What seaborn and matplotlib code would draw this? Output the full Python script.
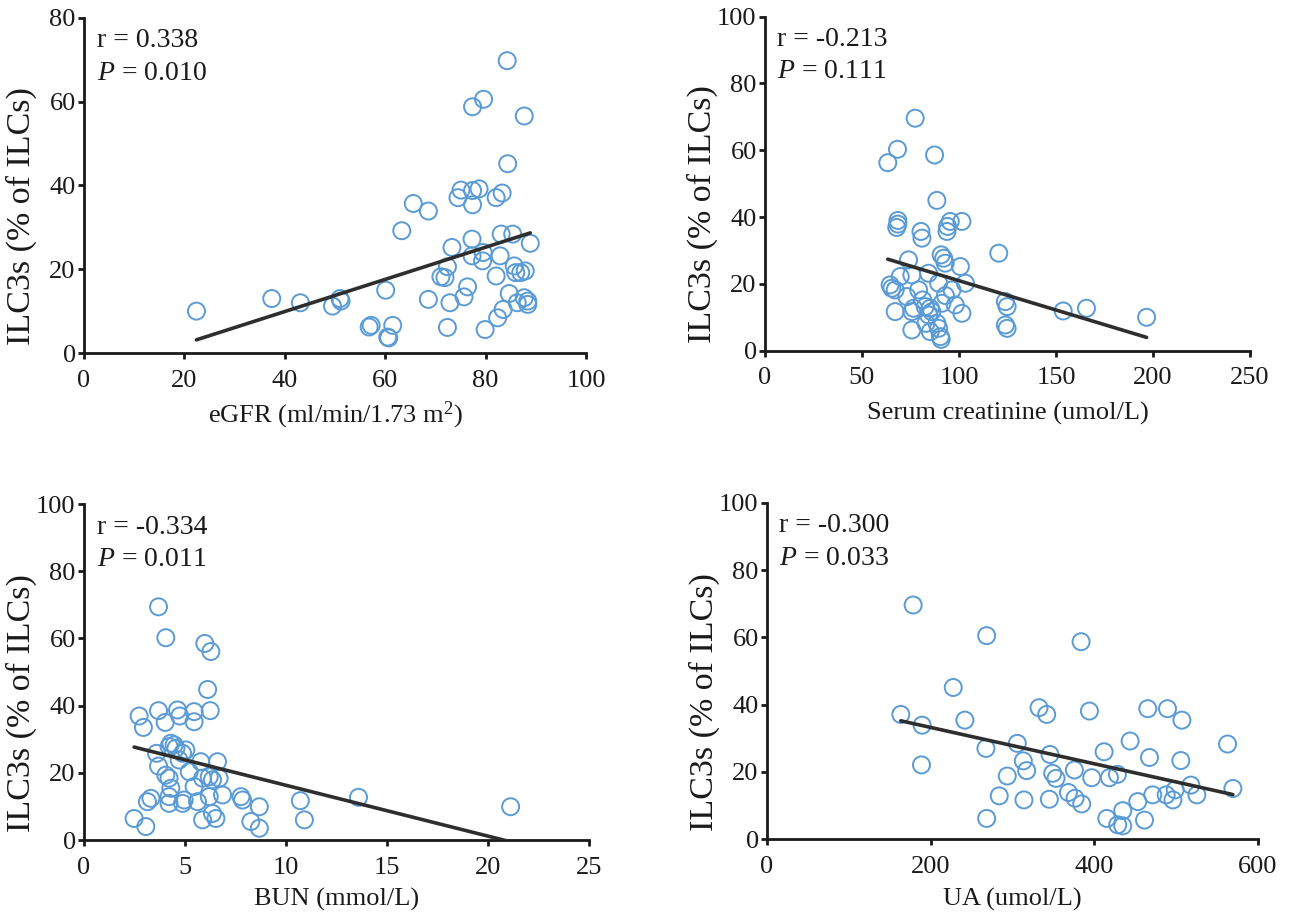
import numpy as np
import pandas as pd
import matplotlib
matplotlib.use("Agg")
import matplotlib.pyplot as plt
import seaborn as sns

# ---------------- data ----------------
egfr_x = [22.4, 37.4, 43.1, 49.5, 51.0, 51.2, 56.8, 57.2, 60.1, 60.5, 60.7, 61.5, 63.3, 65.6,
          68.6, 68.6, 71.1, 71.9, 72.4, 72.4, 72.9, 73.3, 74.5, 75.1, 75.7, 76.4, 77.4, 79.6,
          77.4, 77.4, 77.3, 77.3, 78.7, 79.5, 79.4, 79.9, 82.1, 83.3, 82.1, 82.9, 82.4, 83.5,
          83.1, 84.3, 84.4, 84.7, 85.4, 85.7, 86.0, 86.3, 87.0, 87.7, 87.9, 87.7, 88.4, 88.4, 88.9]
egfr_y = [10.0, 13.0, 12.0, 11.2, 13.0, 12.4, 6.2, 6.6, 15.0, 3.8, 3.6, 6.6, 29.2, 35.7,
          33.9, 12.8, 18.2, 18.0, 20.6, 6.1, 12.0, 25.2, 37.1, 38.9, 13.4, 15.8, 58.8, 60.6,
          38.8, 35.4, 27.2, 23.2, 39.2, 24.0, 22.0, 5.6, 37.1, 38.2, 18.4, 23.2, 8.4, 10.4,
          28.4, 69.8, 45.2, 14.2, 28.4, 20.8, 19.2, 12.0, 19.2, 56.6, 19.6, 13.2, 12.4, 11.6, 26.2]

scr_x = [77.4, 68.3, 63.3, 87.4, 88.6, 68.5, 68.5, 67.9, 80.4, 80.9, 95.5, 101.5, 94.1, 93.8,
         120.5, 90.8, 92.1, 92.9, 74.0, 100.7, 69.7, 75.7, 84.3, 89.5, 103.3, 64.5, 65.4, 67.1,
         79.2, 96.4, 73.1, 67.1, 76.6, 75.7, 82.6, 85.2, 86.0, 84.3, 91.2, 98.1, 101.5, 75.7,
         85.2, 88.6, 89.5, 90.4, 90.8, 123.9, 124.8, 123.9, 124.8, 153.7, 165.7, 196.7,
         81.3, 83.0, 93.0]
scr_y = [69.6, 60.3, 56.3, 58.6, 45.0, 39.0, 37.9, 36.9, 35.7, 33.7, 38.7, 38.7, 37.2, 35.7,
         29.2, 28.7, 27.7, 26.2, 27.2, 25.2, 22.2, 22.7, 23.2, 20.2, 20.2, 19.7, 18.7, 18.2,
         18.2, 18.2, 16.2, 11.7, 12.7, 11.7, 13.2, 12.7, 11.7, 10.7, 14.2, 13.7, 11.2, 6.2,
         5.7, 8.2, 6.7, 4.2, 3.4, 14.7, 13.2, 7.7, 6.7, 11.9, 12.7, 10.0,
         15.2, 8.2, 16.5]

bun_x = [3.69, 4.05, 5.98, 6.28, 6.12,
         2.73, 2.94, 3.69, 4.02, 4.63, 4.74, 5.45, 5.45, 6.25,
         4.30, 4.46, 4.21, 4.55, 5.04, 4.88, 3.59, 3.69, 5.78, 6.61, 4.71, 4.05, 4.21, 5.21,
         5.87, 6.20, 6.36, 6.69, 4.30, 5.45,
         3.31, 3.14, 4.21, 4.21, 4.96, 4.88, 5.62, 6.20, 6.86, 7.77, 7.85, 8.68, 2.48, 3.06,
         5.87, 6.36, 6.53, 8.26, 8.68,
         10.71, 10.91, 13.59, 21.12]
bun_y = [69.4, 60.2, 58.5, 56.1, 44.8,
         36.9, 33.5, 38.5, 35.0, 38.7, 36.9, 38.2, 35.2, 38.5,
         28.8, 28.3, 27.8, 27.3, 26.8, 25.8, 25.8, 22.0, 23.3, 23.3, 23.8, 19.3, 18.4, 20.3,
         18.4, 18.8, 17.9, 18.4, 15.4, 15.9,
         12.4, 11.4, 12.9, 10.9, 11.9, 10.9, 11.4, 12.9, 13.4, 12.9, 11.9, 9.9, 6.4, 4.0,
         6.0, 7.9, 6.4, 5.5, 3.5,
         11.7, 6.0, 12.7, 9.9]

ua_x = [178.6, 268.4, 383.8, 227.6, 163.5, 189.6, 241.8, 332.4, 341.8, 394.0, 465.3, 489.4,
        507.0, 188.8, 267.5, 305.9, 313.2, 317.3, 293.6, 283.8, 268.4, 314.0, 345.8, 349.1,
        353.2, 345.0, 368.3, 376.4, 384.6, 375.6, 396.8, 411.9, 418.4, 428.2, 443.7, 467.4,
        505.7, 415.2, 428.6, 434.7, 434.7, 453.1, 461.3, 471.4, 487.8, 496.0, 498.8, 518.0,
        525.3, 562.8, 569.3]
ua_y = [69.6, 60.5, 58.7, 45.1, 37.1, 33.9, 35.4, 39.1, 37.1, 38.1, 38.8, 38.8,
        35.4, 22.1, 27.0, 28.5, 23.3, 20.4, 18.8, 12.9, 6.2, 11.7, 25.2, 19.6,
        18.1, 11.9, 13.9, 12.2, 10.5, 20.6, 18.3, 26.0, 18.3, 19.3, 29.2, 24.3,
        23.4, 6.2, 4.3, 4.0, 8.5, 11.2, 5.7, 13.2, 13.2, 11.7, 14.7, 16.1,
        13.2, 28.3, 15.1]

x_labels = ["eGFR (ml/min/1.73 m$^{2}$)", "Serum creatinine (umol/L)",
            "BUN (mmol/L)", "UA (umol/L)"]
y_label = "ILC3s (% of ILCs)"
r_texts = ["r = 0.338", "r = -0.213", "r = -0.334", "r = -0.300"]
p_texts = ["0.010", "0.111", "0.011", "0.033"]
x_ticks = [[0, 20, 40, 60, 80, 100], [0, 50, 100, 150, 200, 250],
           [0, 5, 10, 15, 20, 25], [0, 200, 400, 600]]
y_ticks = [[0, 20, 40, 60, 80], [0, 20, 40, 60, 80, 100],
           [0, 20, 40, 60, 80, 100], [0, 20, 40, 60, 80, 100]]

# ---------------- style ----------------
sns.set_style("ticks")
plt.rcParams["font.family"] = ["Liberation Serif", "DejaVu Serif"]
plt.rcParams["mathtext.fontset"] = "custom"
plt.rcParams["mathtext.rm"] = "Liberation Serif"
plt.rcParams["mathtext.it"] = "Liberation Serif:italic"
plt.rcParams["mathtext.bf"] = "Liberation Serif:bold"

MARK = "#5B9BD5"
LINE = "#2E2E2E"
INK = "#1a1a1a"

W, H = 1304, 913
fig = plt.figure(figsize=(W / 100, H / 100), dpi=100)
# (left px, bottom px, width px, height px)
boxes = [(84, 353, 502, 335), (765, 350.7, 485, 334),
         (84, 840, 505, 336), (767, 839.3, 491, 336.6)]
xlabel_pads = [6, 9, 7, 7]
datasets = [(egfr_x, egfr_y), (scr_x, scr_y), (bun_x, bun_y), (ua_x, ua_y)]

for i, ((lpx, bpx, wpx, hpx), (xs, ys)) in enumerate(zip(boxes, datasets)):
    ax = fig.add_axes((lpx / W, 1 - bpx / H, wpx / W, hpx / H))
    df = pd.DataFrame({"x": xs, "y": ys})
    sns.scatterplot(data=df, x="x", y="y", ax=ax, s=150, marker="o",
                    facecolors="none", edgecolor=MARK, linewidth=1.4,
                    clip_on=False, zorder=3)
    sns.regplot(data=df, x="x", y="y", ax=ax, scatter=False, ci=None,
                truncate=True, line_kws=dict(color=LINE, lw=2.6, zorder=4))
    ax.set_xlim(x_ticks[i][0], x_ticks[i][-1])
    ax.set_ylim(y_ticks[i][0], y_ticks[i][-1])
    ax.set_xticks(x_ticks[i])
    ax.set_yticks(y_ticks[i])
    sns.despine(ax=ax)
    for side in ("left", "bottom"):
        ax.spines[side].set_linewidth(2.0)
        ax.spines[side].set_color(INK)
    ax.tick_params(axis="both", direction="out", length=4, width=2.0,
                   color=INK, labelsize=19, labelcolor=INK)
    ax.tick_params(axis="x", pad=8)
    ax.tick_params(axis="y", pad=2)
    ax.set_xlabel(x_labels[i], fontsize=19, labelpad=xlabel_pads[i], color=INK)
    ax.set_ylabel(y_label, fontsize=24.5, color=INK)
    ax.yaxis.set_label_coords(-47 / wpx, 0.408)
    ax.text(0.025, 0.912, r_texts[i], transform=ax.transAxes, fontsize=20,
            va="baseline", ha="left", color=INK)
    ax.text(0.025, 0.815, "$P$ = " + p_texts[i], transform=ax.transAxes, fontsize=20,
            va="baseline", ha="left", color=INK)

fig.savefig("out.png", dpi=100)
